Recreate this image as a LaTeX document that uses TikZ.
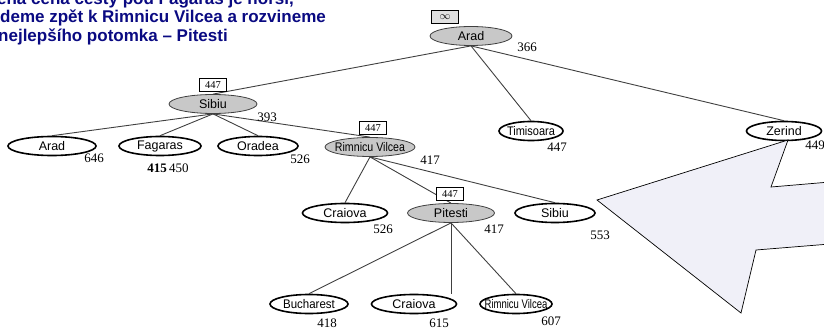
\documentclass[tikz,border=0pt]{standalone}
\usepackage{fontspec}
\setmainfont{Liberation Serif}
\setsansfont{Liberation Sans}
\usepackage{graphicx}
\usepackage{tikz}
\usetikzlibrary{positioning,shapes.geometric}
\definecolor{cHead}{RGB}{10,10,130}
\definecolor{cOpen}{RGB}{200,200,200}
\definecolor{cCall}{RGB}{240,240,248}
\newcommand{\narrow}[2][0.85]{\scalebox{#1}[1]{#2}}

\begin{document}
\begin{tikzpicture}[x=1pt,y=-1pt]
\tikzset{
  st/.style={ellipse,draw,line width=1.6pt,fill=white,inner ysep=0pt,inner xsep=-6pt,minimum height=19pt,font=\sffamily\fontsize{12.5}{13}\selectfont},
  sx/.style={st,fill=cOpen,draw=black!75,line width=0.8pt},
  fv/.style={inner sep=0pt,font=\fontsize{13}{14}\selectfont},
  lim/.style={draw,fill=white,inner sep=1pt,minimum width=27pt,minimum height=13pt,line width=0.7pt,font=\fontsize{10.5}{11}\selectfont},
  ed/.style={draw=black!75,line width=0.9pt},
  hd/.style={anchor=base west,inner sep=0pt,text=cHead,font=\sffamily\bfseries\fontsize{17}{19}\selectfont}
}
\useasboundingbox (0,0) rectangle (824,331);
\clip (0,0) rectangle (824,331);

% heading
\node[hd,anchor=base east] (h1) at (294,5) {upřesněná cena cesty pod Fagaras je horší,};
\node[hd] (h2) at (0,23) {deme zpět k Rimnicu Vilcea a rozvineme};
\node[hd] (h3) at (-2,42) {nejlepšího potomka -- Pitesti};

% tree
\node[sx,minimum width=82pt] (r) at (471,36) {Arad};
\node[sx,minimum width=88pt] (s) at (213,104) {Sibiu};
\node[st,minimum width=64pt] (t) at (531,131) {\narrow[0.88]{Timisoara}};
\node[st,minimum width=75pt] (z) at (784,131) {Zerind};
\node[st,minimum width=88pt] (sa) at (52,146) {Arad};
\node[st,minimum width=82pt] (sf) at (160,146) {Fagaras};
\node[st,minimum width=80pt] (so) at (258,146) {Oradea};
\node[sx,minimum width=90pt] (rv) at (370,147) {\narrow{Rimnicu Vilcea}};
\node[st,minimum width=85pt] (rc) at (345,213) {Craiova};
\node[sx,minimum width=87pt] (p) at (451,213) {Pitesti};
\node[st,minimum width=80pt] (rs) at (555,213) {Sibiu};
\node[st,minimum width=78pt] (pb) at (309,304) {\narrow[0.92]{Bucharest}};
\node[st,minimum width=85pt] (pc) at (414,304) {Craiova};
\node[st,minimum width=72pt] (pr) at (516,304) {\narrow[0.76]{Rimnicu Vilcea}};

\foreach \a/\b in {r/s,r/t,r/z,s/sa,s/sf,s/so,s/rv,rv/rc,rv/p,rv/rs,p/pb,p/pr}
  \draw[ed] (\a.south) -- (\b.north);
\draw[ed] (p.south) -- (p.south |- pc.north);

% f-limits
\node[lim,fill=black!12] (br) at (445,17) {$\infty$};
\node[lim] (bs) at (213,85) {447};
\node[lim] (brv) at (373,128) {447};
\node[lim] (bp) at (450,194) {447};

% f-values
\node[fv] (vr) at (527,47) {366};
\node[fv] (vs) at (267,117) {393};
\node[fv] (vt) at (557,147) {447};
\node[fv] (vz) at (815,145) {449};
\node[fv] (vsa) at (94,158) {646};
\node[fv] (vsf) at (168,168) {\textbf{415}\,450};
\node[fv] (vso) at (300,159) {526};
\node[fv] (vrv) at (430,160) {417};
\node[fv] (vrc) at (383,229) {526};
\node[fv] (vp) at (494,229) {417};
\node[fv] (vrs) at (600,235) {553};
\node[fv] (vpb) at (327,323) {418};
\node[fv] (vpc) at (439,323) {615};
\node[fv] (vpr) at (551,321) {607};

% callout
\draw[fill=cCall,line width=0.7pt] (597,200) -- (788,140) -- (771,187) -- (830,182)
  -- (830,244) -- (756,250) -- (741,313) -- cycle;
\end{tikzpicture}
\end{document}
